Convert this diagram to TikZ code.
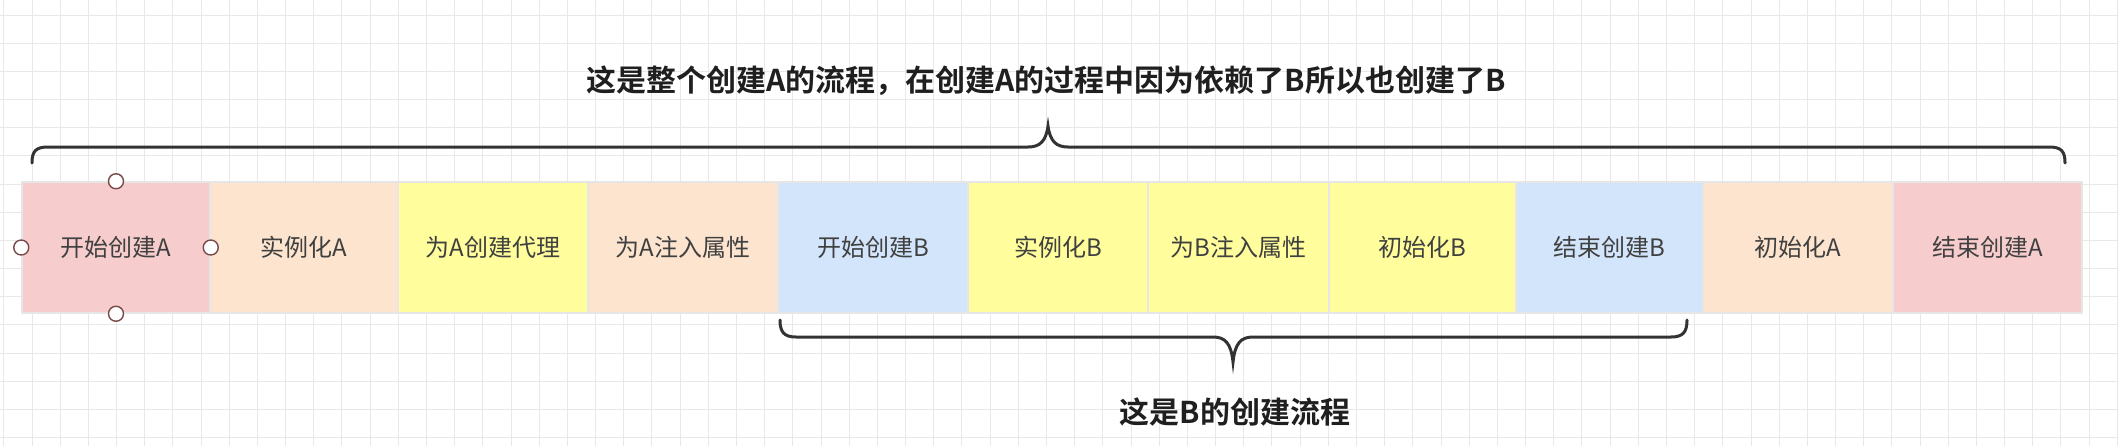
\documentclass[tikz,border=0pt]{standalone}
\usepackage{fontspec}
\setmainfont{Noto Sans CJK SC}[BoldFont={Noto Sans CJK SC Bold}]
\definecolor{cpink}{HTML}{F6CDCC}
\definecolor{cpeach}{HTML}{FCE4CE}
\definecolor{cyellow}{HTML}{FFFD9C}
\definecolor{cblue}{HTML}{D2E5FA}
\definecolor{boxline}{HTML}{E6E6E6}
\definecolor{gridc}{HTML}{E8E8E8}
\definecolor{labelc}{HTML}{404040}
\definecolor{bracec}{HTML}{333333}
\definecolor{handlec}{HTML}{7A4A4A}
\tikzset{
  box/.style={draw=boxline, line width=0.75pt, minimum height=65.5pt, inner sep=0pt,
    font=\fontsize{12pt}{14pt}\selectfont, text=labelc},
  handle/.style={circle, draw=handlec, fill=white, line width=0.7pt, minimum size=7.5pt, inner sep=0pt},
  brace/.style={draw=bracec, line width=1.5pt, line cap=round},
  gridline/.style={draw=gridc, line width=0.5pt},
  title/.style={font=\fontsize{15pt}{18pt}\selectfont\bfseries, text=black!88}
}
\begin{document}
\begin{tikzpicture}[x=0.5pt, y=-0.5pt]
\useasboundingbox (0,0) rectangle (2128,446);
\fill[white] (0,0) rectangle (2128,446);
% grid
\foreach \i in {-1,...,74} { \draw[gridline] ({32+28.18*\i},0) -- ({32+28.18*\i},446); }
\foreach \j in {0,...,15} { \draw[gridline] (0,{15+28.18*\j}) -- (2117,{15+28.18*\j}); }
% boxes
\node[box, fill=cpink,   minimum width=94pt]   (b1)  at (116,247.5)    {开始创建A};
\node[box, fill=cpeach,  minimum width=94pt]   (b2)  at (304,247.5)    {实例化A};
\node[box, fill=cyellow, minimum width=95pt]   (b3)  at (493,247.5)    {为A创建代理};
\node[box, fill=cpeach,  minimum width=95pt]   (b4)  at (683,247.5)    {为A注入属性};
\node[box, fill=cblue,   minimum width=95pt]   (b5)  at (873,247.5)    {开始创建B};
\node[box, fill=cyellow, minimum width=90pt]   (b6)  at (1058,247.5)   {实例化B};
\node[box, fill=cyellow, minimum width=90.5pt] (b7)  at (1238.5,247.5) {为B注入属性};
\node[box, fill=cyellow, minimum width=93.5pt] (b8)  at (1422.5,247.5) {初始化B};
\node[box, fill=cblue,   minimum width=93.5pt] (b9)  at (1609.5,247.5) {结束创建B};
\node[box, fill=cpeach,  minimum width=95pt]   (b10) at (1798,247.5)   {初始化A};
\node[box, fill=cpink,   minimum width=94.5pt] (b11) at (1987.5,247.5) {结束创建A};
% selection handles
\node[handle] (h1) at (b1.north) {};
\node[handle] (h2) at (b1.south) {};
\node[handle] (h3) at (b1.west) {};
\node[handle] (h4) at (b1.east) {};
% top brace
\draw[brace] (32,163) .. controls (32,151) and (36,147) .. (48,147) -- (1028,147)
  .. controls (1040,147) and (1046,141) .. (1048,126)
  .. controls (1050,141) and (1056,147) .. (1068,147) -- (2049,147)
  .. controls (2061,147) and (2065,151) .. (2065,163);
% bottom brace
\draw[brace] (780,320) .. controls (780,332) and (784,337) .. (796,337) -- (1213,337)
  .. controls (1225,337) and (1231,343) .. (1233,362)
  .. controls (1235,343) and (1241,337) .. (1253,337) -- (1671,337)
  .. controls (1683,337) and (1687,332) .. (1687,320);
% labels
\node[title] (t1) at (1046,81) {这是整个创建A的流程，在创建A的过程中因为依赖了B所以也创建了B};
\node[title] (t2) at (1235,412) {这是B的创建流程};
\end{tikzpicture}
\end{document}
